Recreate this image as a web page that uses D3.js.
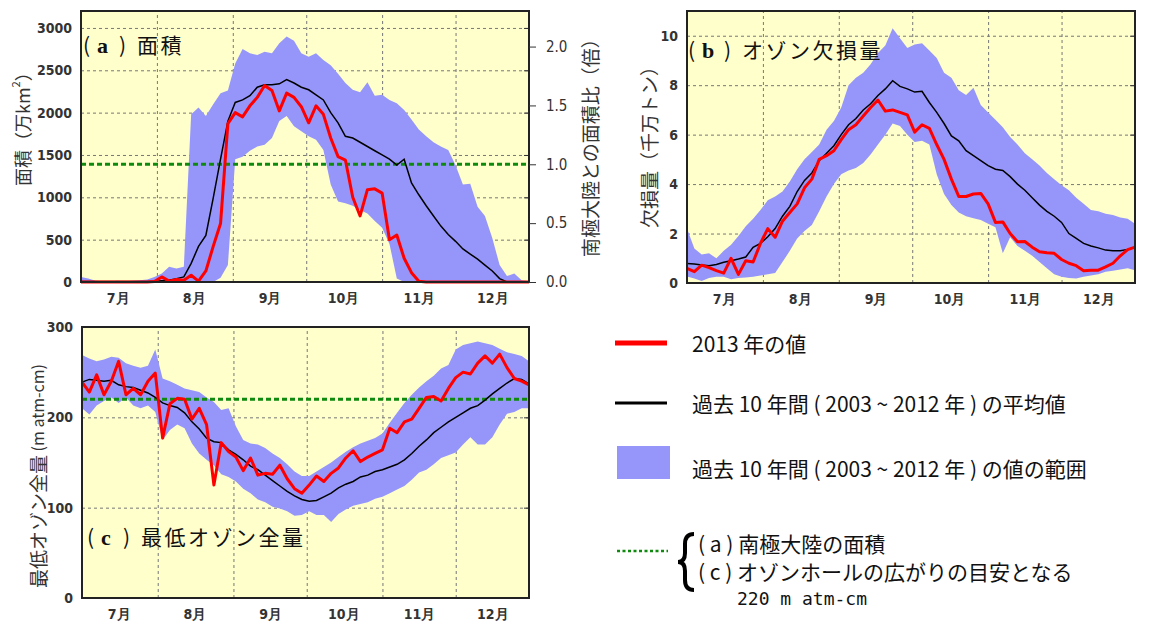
<!DOCTYPE html>
<html lang="ja">
<head>
<meta charset="UTF-8">
<script src="https://d3js.org/d3.v7.min.js"></script>
<style>
  body { margin: 0; background: #fff; }
  svg { font-family: "Noto Sans CJK JP", sans-serif; }
  .num { font-family: "DejaVu Sans Condensed", "DejaVu Sans", sans-serif; font-stretch: condensed; }
</style>
</head>
<body>
<div id="chart"></div>
<script>
// Values every 3 days from 1 July to 31 December 2013
const STEP = 3;
const startDate = new Date(2013, 6, 1);
const endDate = new Date(2013, 11, 31);
const monthNames = ["7月", "8月", "9月", "10月", "11月", "12月"];

// (a) ozone hole area, 10^4 km2
const area2013 = [0,0,0,0,0,0,0,0,0,0, 5,60,10,30,20,80,10,130,420,690,
  1870,2000,1950,2080,2180,2320,2260,2020,2230,2180, 2070,1880,2080,1980,1700,1480,1440,1000,780,1090,
  1100,1050,500,555,280,110,10,0,0,0, 0,0,0,0,0,0,0,0,0,0, 0,0];
const areaMean = [5,5,5,5,5,5,5,5,5,5, 10,15,20,40,60,220,420,550,990,1450,
  1900,2120,2150,2200,2300,2330,2330,2340,2390,2350, 2300,2270,2210,2150,2000,1880,1720,1700,1650,1600,
  1550,1500,1450,1380,1450,1170,1030,900,780,660, 560,480,390,330,270,200,130,40,0,0, 0,0];
const areaMax = [60,40,15,10,10,15,10,15,20,30, 60,100,180,160,180,1980,2060,1960,2100,2230,
  2260,2580,2750,2700,2680,2720,2700,2820,2900,2850, 2700,2660,2700,2620,2560,2460,2350,2270,2240,2360,
  2200,2210,2150,2110,2030,1920,1800,1720,1650,1600, 1560,1380,1150,1160,890,780,520,200,70,100, 20,10];
const areaMin = [0,0,0,0,0,0,0,0,0,0, 0,0,0,0,0,0,0,0,0,50,
  200,1450,1480,1550,1600,1620,1700,1900,1960,1840, 1780,1720,1680,1560,1150,950,930,900,850,810,
  720,640,450,40,0,0,0,0,0,0, 0,0,0,0,0,0,0,0,0,0, 0,0];
const antarcticArea = 1390;
const areaTicks = [0, 500, 1000, 1500, 2000, 2500, 3000];
const ratioTicks = [0, 0.5, 1, 1.5, 2];

// (b) ozone mass deficit, 10^7 t
const loss2013 = [0.59,0.46,0.72,0.62,0.50,0.40,1.0,0.35,0.9,0.85, 1.6,2.2,1.85,2.5,2.85,3.2,3.85,4.2,5.0,5.15,
  5.35,5.8,6.2,6.4,6.75,7.1,7.4,6.95,7.0,6.9, 6.8,6.1,6.4,6.25,5.6,5.0,4.2,3.5,3.5,3.6,
  3.62,3.2,2.45,2.47,2.0,1.67,1.68,1.45,1.26,1.22, 1.2,0.95,0.8,0.7,0.5,0.52,0.52,0.65,0.8,1.1, 1.35,1.45];
const lossMean = [0.79,0.77,0.73,0.70,0.75,0.84,0.90,0.97,1.05,1.44, 1.6,1.87,2.2,2.7,3.1,3.7,4.15,4.45,4.95,5.25,
  5.55,6.0,6.4,6.65,7.0,7.25,7.58,7.85,8.18,7.95, 7.85,7.72,7.75,7.3,6.9,6.45,5.95,5.75,5.35,5.15,
  4.95,4.75,4.6,4.55,4.3,4.0,3.75,3.45,3.15,2.9, 2.7,2.45,2.0,1.8,1.6,1.5,1.42,1.33,1.3,1.3, 1.36,1.44];
const lossMax = [2.2,1.4,1.15,1.2,1.0,1.3,1.55,1.9,2.3,2.6, 2.95,3.35,3.5,3.7,4.1,4.6,5.0,5.3,5.6,6.2,
  6.55,7.1,8.0,8.3,8.5,8.85,9.3,9.6,10.3,9.9, 9.5,9.65,9.7,9.4,9.1,8.5,8.3,7.8,7.6,7.9,
  7.2,6.9,6.6,6.3,5.9,5.6,5.25,5.0,4.75,4.45, 4.2,3.95,3.75,3.45,3.2,2.95,2.9,2.8,2.75,2.65, 2.6,2.4];
const lossMin = [0.26,0.18,0.08,0.2,0.25,0.25,0.15,0.2,0.22,0.25, 0.3,0.35,0.4,0.85,1.3,1.8,2.1,2.35,2.9,3.5,
  4.0,4.4,4.55,4.65,4.85,5.2,5.6,6.0,6.45,6.35, 6.0,5.7,5.75,5.6,4.4,3.6,3.15,2.85,2.7,2.62,
  2.55,2.4,2.25,1.2,1.85,1.5,1.3,1.1,0.85,0.6, 0.35,0.25,0.2,0.18,0.25,0.3,0.35,0.45,0.5,0.55, 0.6,0.52];
const lossTicks = [0, 2, 4, 6, 8, 10];

// (c) minimum total ozone, m atm-cm
const oz2013 = [239,228,247,225,240,262,225,232,225,240, 249,177,215,221,220,198,210,192,125,172,
  162,156,141,155,136,138,137,147,132,121, 116,125,135,129,138,144,155,163,151,156,
  160,164,188,183,195,198,210,222,223,218, 232,244,250,248,260,268,260,270,255,243, 240,236];
const ozMean = [239,242,241,240,241,236,234,233,230,227, 222,216,213,211,205,195,187,177,173,172,
  164,159,153,146,142,136,130,124,118,113, 109,107,108,112,116,122,126,129,134,136,
  140,142,145,148,153,160,168,175,183,189, 195,200,205,210,213,219,226,232,238,243, 242,237];
const ozMax = [269,265,262,264,267,266,260,257,255,257, 275,243,240,236,232,230,228,222,217,208,
  210,190,175,171,170,166,160,155,148,140, 135,135,140,145,150,156,162,167,171,174,
  177,182,194,205,216,225,233,240,246,254, 258,275,280,282,284,282,280,276,272,270, 268,262];
const ozMin = [210,203,213,218,222,216,222,213,210,213, 206,175,186,192,188,171,160,153,147,137,
  134,129,121,116,109,106,101,99,96,91, 92,96,92,92,84,93,98,102,104,106,
  110,112,116,120,124,131,139,142,148,155, 158,161,170,178,170,170,178,192,204,206, 210,210];
const ozoneRef = 220;
const ozoneTicks = [0, 100, 200, 300];

const legendLabels = [
  "2013 年の値",
  "過去 10 年間 ( 2003 ~ 2012 年 ) の平均値",
  "過去 10 年間 ( 2003 ~ 2012 年 ) の値の範囲"
];

const svg = d3.select("#chart").append("svg")
  .attr("width", 1158)
  .attr("height", 626);

const monthStarts = d3.timeMonth.range(startDate, new Date(2014, 0, 1));
const monthMids = monthStarts.map(d => d3.timeDay.offset(d, 15));

function styleNum(sel, size, bold) {
  sel.attr("class", "num")
    .attr("font-size", size)
    .attr("font-weight", bold ? "bold" : "normal")
    .attr("fill", "#333");
}

function drawPanel(p) {
  const g = svg.append("g").attr("transform", `translate(${p.left},${p.top})`);
  const x = d3.scaleTime().domain([startDate, endDate]).range([0, p.width]);
  const y = d3.scaleLinear().domain([0, p.yMax]).range([p.height, 0]);
  const px = (d, i) => x(d3.timeDay.offset(startDate, i * STEP));

  g.append("rect")
    .attr("width", p.width)
    .attr("height", p.height)
    .attr("fill", "#ffffcc");

  // horizontal grid and left tick labels
  const yAxis = g.append("g")
    .call(d3.axisLeft(y).tickValues(p.yTicks).tickSize(-p.width).tickPadding(9)
      .tickFormat(d3.format("d")));
  yAxis.select(".domain").remove();
  yAxis.selectAll(".tick line")
    .attr("stroke", "#777")
    .attr("stroke-dasharray", "3,3");
  styleNum(yAxis.selectAll(".tick text"), 14, true);

  // vertical month grid
  const xGrid = g.append("g")
    .attr("transform", `translate(0,${p.height})`)
    .call(d3.axisBottom(x).tickValues(monthStarts.slice(1)).tickSize(-p.height).tickFormat(""));
  xGrid.select(".domain").remove();
  xGrid.selectAll(".tick line")
    .attr("stroke", "#777")
    .attr("stroke-dasharray", "3,3");

  // month labels
  const xAxis = g.append("g")
    .attr("transform", `translate(0,${p.height})`)
    .call(d3.axisBottom(x).tickValues(monthMids).tickSize(0).tickPadding(11)
      .tickFormat((d, i) => monthNames[i]));
  xAxis.select(".domain").remove();
  styleNum(xAxis.selectAll(".tick text"), 14, true);

  // small inward ticks on the right edge
  const rTicks = g.append("g")
    .attr("transform", `translate(${p.width},0)`)
    .call(d3.axisLeft(y).tickValues(p.yTicks).tickSize(5).tickFormat(""));
  rTicks.select(".domain").remove();
  rTicks.selectAll(".tick line").attr("stroke", "#333");

  // range of past 10 years
  g.append("path")
    .datum(p.hi)
    .attr("fill", "#9696fa")
    .attr("d", d3.area().x(px).y0((d, i) => y(p.lo[i])).y1(d => y(d)));

  if (p.ref != null) {
    g.append("line")
      .attr("x1", 0).attr("x2", p.width)
      .attr("y1", y(p.ref)).attr("y2", y(p.ref))
      .attr("stroke", "#0f8a0f")
      .attr("stroke-width", 3)
      .attr("stroke-dasharray", "5,3");
  }

  const line = d3.line().x(px).y(d => y(d));
  g.append("path")
    .datum(p.mean)
    .attr("fill", "none")
    .attr("stroke", "#000")
    .attr("stroke-width", 1.5)
    .attr("d", line);
  g.append("path")
    .datum(p.now)
    .attr("fill", "none")
    .attr("stroke", "#ff0000")
    .attr("stroke-width", 3)
    .attr("stroke-linejoin", "round")
    .attr("d", line);

  // frame
  g.append("rect")
    .attr("width", p.width)
    .attr("height", p.height)
    .attr("fill", "none")
    .attr("stroke", "#222")
    .attr("stroke-width", 2);

  // panel title
  const t = g.append("text")
    .attr("x", p.titleX)
    .attr("y", p.titleY)
    .attr("font-size", 21)
    .attr("fill", "#111");
  t.append("tspan").attr("x", p.titleX).text("(");
  t.append("tspan").attr("x", p.titleX + 14)
    .attr("font-family", "Liberation Serif, serif")
    .attr("font-weight", "bold")
    .attr("font-size", 22)
    .text(p.letter);
  t.append("tspan").attr("x", p.titleX + 36).text(")");
  t.append("tspan").attr("x", p.titleX + 54).attr("letter-spacing", 2.5).text(p.title);

  return { g, x, y };
}

// (a)
const pa = drawPanel({
  left: 81, top: 11, width: 448, height: 271, yMax: 3200, yTicks: areaTicks,
  now: area2013, mean: areaMean, hi: areaMax, lo: areaMin, ref: antarcticArea,
  letter: "a", title: "面積", titleX: 2, titleY: 42
});
const ratio = d3.scaleLinear().domain([0, 3200 / antarcticArea]).range([271, 0]);
const rAxis = pa.g.append("g")
  .attr("transform", "translate(448,0)")
  .call(d3.axisRight(ratio).tickValues(ratioTicks).tickSize(7).tickPadding(10).tickFormat(d3.format(".1f")));
rAxis.select(".domain").remove();
rAxis.selectAll(".tick line").attr("stroke", "#333");
styleNum(rAxis.selectAll(".tick text"), 15, false);

// (b)
drawPanel({
  left: 687, top: 11, width: 448, height: 272, yMax: 11, yTicks: lossTicks,
  now: loss2013, mean: lossMean, hi: lossMax, lo: lossMin, ref: null,
  letter: "b", title: "オゾン欠損量", titleX: 1, titleY: 47
});

// (c)
drawPanel({
  left: 82, top: 327, width: 447, height: 271, yMax: 300, yTicks: ozoneTicks,
  now: oz2013, mean: ozMean, hi: ozMax, lo: ozMin, ref: ozoneRef,
  letter: "c", title: "最低オゾン全量", titleX: 5, titleY: 218
});

// axis titles
function vLabel(x, y, size) {
  return svg.append("text")
    .attr("transform", `translate(${x},${y}) rotate(-90)`)
    .attr("dominant-baseline", "central")
    .attr("font-size", size)
    .attr("fill", "#333");
}
const la = vLabel(22, 186, 18);
la.append("tspan").text("面積（万km");
la.append("tspan").attr("font-size", 11).attr("dy", -7).text("2");
la.append("tspan").attr("dy", 7).text("）");
vLabel(589, 257, 19).text("南極大陸との面積比（倍）");
vLabel(648, 228, 19).text("欠損量（千万トン）");
const lc = vLabel(37, 588, 19);
lc.append("tspan").text("最低オゾン全量");
lc.append("tspan").attr("font-size", 16).text(" (m atm-cm)");

// legend
const lg = svg.append("g");
const rowY = [343, 403, 468];
lg.append("line").attr("x1", 615).attr("x2", 667).attr("y1", rowY[0]).attr("y2", rowY[0])
  .attr("stroke", "#ff0000").attr("stroke-width", 5);
lg.append("line").attr("x1", 615).attr("x2", 667).attr("y1", rowY[1]).attr("y2", rowY[1])
  .attr("stroke", "#000").attr("stroke-width", 3);
lg.append("rect").attr("x", 617).attr("y", 446).attr("width", 53).attr("height", 33)
  .attr("fill", "#9696fa");
lg.selectAll("text.row")
  .data(legendLabels)
  .join("text")
  .attr("class", "row")
  .attr("x", 692)
  .attr("y", (d, i) => rowY[i])
  .attr("dominant-baseline", "central")
  .attr("font-size", 21)
  .attr("fill", "#111")
  .text(d => d);

lg.append("line").attr("x1", 617).attr("x2", 668).attr("y1", 551).attr("y2", 551)
  .attr("stroke", "#0f8a0f").attr("stroke-width", 2.5).attr("stroke-dasharray", "3,2.5");

const brace = d3.path();
brace.moveTo(694, 534);
brace.quadraticCurveTo(685, 534, 685, 544);
brace.lineTo(685, 553);
brace.quadraticCurveTo(685, 562, 678, 562);
brace.quadraticCurveTo(685, 562, 685, 571);
brace.lineTo(685, 580);
brace.quadraticCurveTo(685, 590, 694, 590);
lg.append("path").attr("d", brace.toString())
  .attr("fill", "none").attr("stroke", "#000").attr("stroke-width", 4);

lg.append("text").attr("x", 698).attr("y", 543).attr("dominant-baseline", "central")
  .attr("font-size", 21).attr("fill", "#111").style("white-space", "pre")
  .text("( a ) 南極大陸の面積");
lg.append("text").attr("x", 698).attr("y", 571).attr("dominant-baseline", "central")
  .attr("font-size", 21).attr("fill", "#111").style("white-space", "pre")
  .text("( c ) オゾンホールの広がりの目安となる");
lg.append("text").attr("x", 737).attr("y", 598).attr("dominant-baseline", "central")
  .attr("font-family", "DejaVu Sans Mono, Liberation Mono, monospace")
  .attr("font-size", 18).attr("fill", "#111").style("white-space", "pre")
  .text("220 m atm-cm");
</script>
</body>
</html>
